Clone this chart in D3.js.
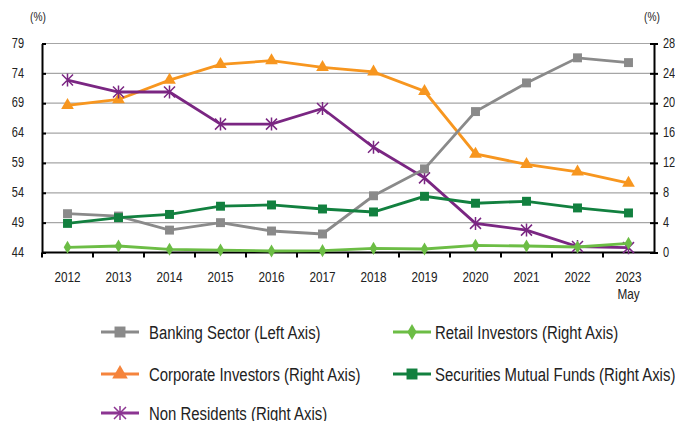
<!DOCTYPE html>
<meta charset="utf-8">
<style>
body { margin: 0; background: #fff; }
text { font-family: "Liberation Sans", Arial, sans-serif; fill: #222; }
.grid line { stroke: #a6a6a6; stroke-width: 1.2; }
.axis path, .axis line { stroke: #000; stroke-width: 2; }
.axis text { font-size: 14px; }
.axis text.xl { font-size: 15px; }
.legend text { font-size: 19px; }
</style>
<svg width="675" height="421"></svg>
<script src="https://d3js.org/d3.v7.min.js"></script>
<script>

var years = ["2012","2013","2014","2015","2016","2017","2018","2019","2020","2021","2022","2023"];
var leftTicks = [44,49,54,59,64,69,74,79];
var rightTicks = [0,4,8,12,16,20,24,28];

var banking   = [50.5, 50.1, 47.75, 49.0, 47.6, 47.1, 53.5, 58.0, 67.6, 72.4, 76.6, 75.8];
var corporate = [19.7, 20.5, 23.1, 25.2, 25.7, 24.8, 24.2, 21.6, 13.2, 11.8, 10.8, 9.3];
var nonRes    = [23.1, 21.5, 21.5, 17.2, 17.2, 19.3, 14.1, 10.0, 3.9, 3.0, 0.8, 0.65];
var retail    = [0.7, 0.87, 0.43, 0.33, 0.2, 0.25, 0.56, 0.47, 0.96, 0.87, 0.74, 1.23];
var mutual    = [3.9, 4.67, 5.1, 6.2, 6.37, 5.83, 5.43, 7.53, 6.6, 6.86, 5.97, 5.3];

var series = [
  {name: "Banking Sector (Left Axis)", values: banking, axis: "left", color: "#8a8a8a", legendColor: "#8a8a8a", symbol: d3.symbolSquare, size: 80},
  {name: "Corporate Investors (Right Axis)", values: corporate, axis: "right", color: "#f7961f", legendColor: "#f5843c", symbol: d3.symbolTriangle, size: 70},
  {name: "Non Residents (Right Axis)", values: nonRes, axis: "right", color: "#7a2682", legendColor: "#8c3592", symbol: "star", size: 0},
  {name: "Retail Investors (Right Axis)", values: retail, axis: "right", color: "#6cbd45", legendColor: "#6cbd45", symbol: d3.symbolDiamond, size: 50},
  {name: "Securities Mutual Funds (Right Axis)", values: mutual, axis: "right", color: "#12803f", legendColor: "#12803f", symbol: d3.symbolSquare, size: 80}
];

var NARROW = 0.785; // squeeze text horizontally to look like a narrow face

var svg = d3.select("svg");
var plotL = 42, plotR = 654, plotT = 43.5, plotB = 252.5;

var x = d3.scaleBand().domain(years).range([plotL, plotR]);
var yL = d3.scaleLinear().domain([44, 79]).range([plotB, plotT]);
var yR = d3.scaleLinear().domain([0, 28]).range([plotB, plotT]);

function narrowText(sel, px, py) {
  return sel.attr("x", 0).attr("y", 0)
    .attr("transform", "translate(" + px + "," + py + ") scale(" + NARROW + ",1)");
}

// gridlines
svg.append("g").attr("class", "grid")
  .selectAll("line").data(leftTicks.slice(1)).enter().append("line")
    .attr("x1", plotL).attr("x2", plotR)
    .attr("y1", function(d) { return yL(d); })
    .attr("y2", function(d) { return yL(d); });

// left axis
var gl = svg.append("g").attr("class", "axis")
  .attr("transform", "translate(" + plotL + ",0)")
  .call(d3.axisLeft(yL).tickValues(leftTicks).tickSizeInner(4).tickSizeOuter(0));
gl.selectAll(".tick line").attr("x2", 4);
gl.selectAll(".tick text").attr("dy", null).attr("dominant-baseline", "middle")
  .each(function() { narrowText(d3.select(this), -18, 0); });

// right axis
var gr = svg.append("g").attr("class", "axis")
  .attr("transform", "translate(" + plotR + ",0)")
  .call(d3.axisRight(yR).tickValues(rightTicks).tickSizeInner(4).tickSizeOuter(0));
gr.selectAll(".tick line").attr("x1", -4);
gr.selectAll(".tick text").attr("dy", null).attr("dominant-baseline", "middle")
  .each(function() { narrowText(d3.select(this), 9, 0); });

// bottom axis
var gb = svg.append("g").attr("class", "axis")
  .attr("transform", "translate(0," + plotB + ")");
gb.append("line").attr("x1", plotL).attr("x2", plotR).attr("y1", 0).attr("y2", 0);
gb.selectAll(".tk").data(years).enter().append("line")
  .attr("x1", function(d) { return x(d); }).attr("x2", function(d) { return x(d); })
  .attr("y1", 0).attr("y2", 5);
gb.selectAll(".lb").data(years).enter().append("text")
  .attr("class", "xl").attr("text-anchor", "middle").text(function(d) { return d; })
  .each(function(d) { narrowText(d3.select(this), x(d) + x.bandwidth() / 2, 29.5); });
narrowText(gb.append("text").attr("class", "xl").attr("text-anchor", "middle").text("May"),
  x("2023") + x.bandwidth() / 2, 46.5);

narrowText(svg.append("text").attr("text-anchor", "middle").style("font-size", "13px").text("(%)"), 38, 21);
narrowText(svg.append("text").attr("text-anchor", "middle").style("font-size", "13px").text("(%)"), 652, 21);

function marker(g, s, cx, cy, color) {
  if (s.symbol === "star") {
    var r = s.r || 5.5;
    g.append("path")
      .attr("d", "M" + (cx - r) + "," + (cy - r) + "L" + (cx + r) + "," + (cy + r) +
                 "M" + (cx - r) + "," + (cy + r) + "L" + (cx + r) + "," + (cy - r) +
                 "M" + cx + "," + (cy - r - 1) + "L" + cx + "," + (cy + r + 1))
      .attr("stroke", color).attr("stroke-width", 1.5).attr("fill", "none");
  } else {
    g.append("path")
      .attr("d", d3.symbol().type(s.symbol).size(s.size)())
      .attr("transform", "translate(" + cx + "," + cy + ")")
      .attr("fill", color);
  }
}

var order = [1, 2, 0, 4, 3];
order.forEach(function(i) {
  var s = series[i];
  var y = s.axis === "left" ? yL : yR;
  var line = d3.line()
    .x(function(d, j) { return x(years[j]) + x.bandwidth() / 2; })
    .y(function(d) { return y(d); });
  var g = svg.append("g");
  g.append("path").datum(s.values).attr("d", line)
    .attr("fill", "none").attr("stroke", s.color).attr("stroke-width", 2.8);
  s.values.forEach(function(v, j) {
    marker(g, s, x(years[j]) + x.bandwidth() / 2, y(v), s.color);
  });
});

// legend
var legPos = [[0, 0], [0, 1], [0, 2], [1, 0], [1, 1]];
var legRows = [332, 374, 413];
var lg = svg.append("g").attr("class", "legend");
series.forEach(function(s, i) {
  var col = legPos[i][0];
  var lx = col === 0 ? 101 : 393;
  var ly = legRows[legPos[i][1]];
  var g = lg.append("g");
  g.append("line").attr("x1", lx).attr("x2", lx + 38).attr("y1", ly).attr("y2", ly)
    .attr("stroke", s.legendColor).attr("stroke-width", 2.8);
  marker(g, {symbol: s.symbol, size: s.size * 1.5, r: 6}, lx + 19, ly, s.legendColor);
  narrowText(g.append("text").text(s.name), col === 0 ? 149 : 435, ly + 6.5);
});

</script>
